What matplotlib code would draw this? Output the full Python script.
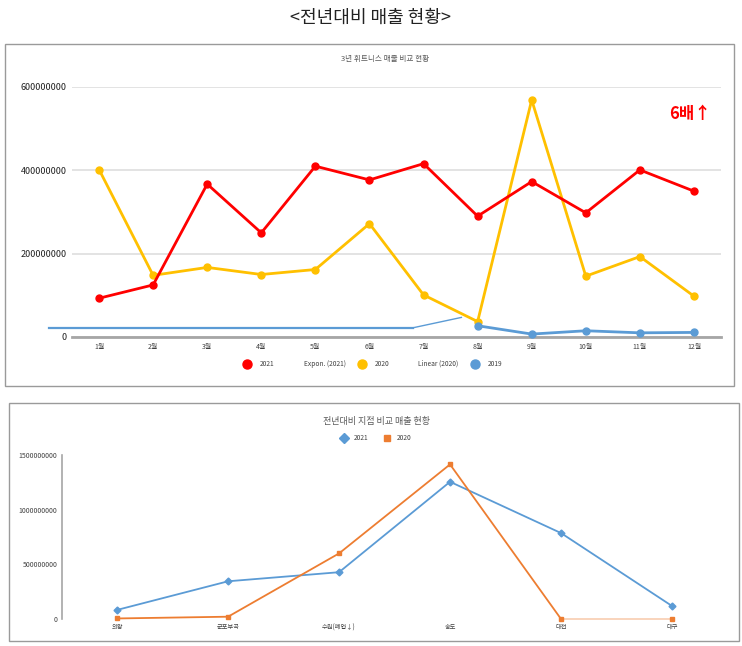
import numpy as np
import matplotlib.pyplot as plt
from matplotlib.lines import Line2D
from matplotlib.patches import Rectangle

plt.rcParams['font.family'] = ['Noto Sans CJK KR', 'DejaVu Sans']

# chart 1 data
months = ['1월', '2월', '3월', '4월', '5월', '6월', '7월', '8월', '9월', '10월', '11월', '12월']
sales_2021 = [93e6, 125e6, 367e6, 250e6, 410e6, 377e6, 416e6, 290e6, 373e6, 298e6, 401e6, 350e6]
sales_2020 = [402e6, 148e6, 167e6, 150e6, 162e6, 272e6, 101e6, 37e6, 569e6, 146e6, 193e6, 98e6]
months_2019 = [8, 9, 10, 11, 12]
sales_2019 = [27e6, 7e6, 15e6, 10e6, 11e6]
# stray trend line pieces
trend_x = [0.08, 6.8]
trend_y = [21e6, 21e6]
trend2_x = [6.8, 7.7]
trend2_y = [22e6, 47e6]
y1_ticks = [0, 200000000, 400000000, 600000000]

# chart 2 data
branches = ['의왕', '군포부곡', '수원(폐업↓)', '송도', '대전', '대구']
branch_2021 = [83e6, 345e6, 428e6, 1255e6, 786e6, 119e6]
branch_2020 = [5e6, 21e6, 600e6, 1414e6, 0, 0]
y2_ticks = [0, 500000000, 1000000000, 1500000000]

W, H = 742, 646
fig = plt.figure(figsize=(W / 100, H / 100), dpi=100)

def box(x0, y0, x1, y1):
    fig.patches.append(Rectangle((x0 / W, 1 - y1 / H), (x1 - x0) / W, (y1 - y0) / H,
                                 transform=fig.transFigure, fill=False,
                                 edgecolor='#9a9a9a', linewidth=1.0))

fig.text(371 / W, 1 - 18 / H, '<전년대비 매출 현황>', ha='center', va='center',
         fontsize=13, color='#222222')

box(5, 44, 734, 386)
box(9, 403, 739, 641)

# ---- chart 1
ax1 = fig.add_axes([72 / W, 1 - 337 / H, (721 - 72) / W, 250 / H])
x = np.arange(1, 13)
ax1.plot(x, sales_2021, color='#ff0000', lw=2.0, marker='o', ms=5, clip_on=False, zorder=4)
ax1.plot(x, sales_2020, color='#ffc000', lw=2.0, marker='o', ms=5, clip_on=False, zorder=3)
ax1.plot(months_2019, sales_2019, color='#5b9bd5', lw=2.0, marker='o', ms=5, clip_on=False, zorder=3)
ax1.plot(trend_x, trend_y, color='#5b9bd5', lw=1.6, clip_on=False, zorder=3)
ax1.plot(trend2_x, trend2_y, color='#5b9bd5', lw=1.0, clip_on=False, zorder=3)
ax1.set_xlim(0.5, 12.5)
ax1.set_ylim(0, 600e6)
ax1.set_xticks(x)
ax1.set_xticklabels(months, fontsize=5, color='#404040')
ax1.set_yticks(y1_ticks)
ax1.set_yticklabels([str(v) for v in y1_ticks], fontsize=6.5, color='#222222')
ax1.tick_params(length=0, pad=4)
ax1.tick_params(axis='y', pad=4)
for s in ['top', 'right', 'left']:
    ax1.spines[s].set_visible(False)
ax1.spines['bottom'].set_color('#a6a6a6')
ax1.spines['bottom'].set_linewidth(2)
ax1.grid(axis='y', color='#e3e3e3', lw=1.4)
ax1.set_axisbelow(True)
ax1.set_title('3년 휘트니스 매출 비교 현황', fontsize=5.5, color='#595959', pad=19,
              x=(385 - 72) / (721 - 72))
ax1.text(11.93, 535e6, '6배↑', color='#ff0000', fontsize=12, fontweight='bold',
         ha='center', va='center')

handles = [Line2D([], [], ls='none', marker='o', ms=6.5, color='#ff0000'),
           Line2D([], [], ls='none'),
           Line2D([], [], ls='none', marker='o', ms=6.5, color='#ffc000'),
           Line2D([], [], ls='none'),
           Line2D([], [], ls='none', marker='o', ms=6.5, color='#5b9bd5')]
labels = ['2021', 'Expon. (2021)', '2020', 'Linear (2020)', '2019']
leg = ax1.legend(handles, labels, ncol=5, loc='center', frameon=False, fontsize=4.8,
                 bbox_to_anchor=((372 - 72) / 649, -27 / 250), handlelength=1.5,
                 handletextpad=1.2, columnspacing=1.65)
for t in leg.get_texts():
    t.set_color('#404040')

# ---- chart 2
ax2 = fig.add_axes([61.6 / W, 1 - 619 / H, (727.5 - 61.6) / W, 164 / H])
xb = np.arange(len(branches))
ax2.plot(xb, branch_2021, color='#5b9bd5', lw=1.3, marker='D', ms=3.5, clip_on=False, zorder=3)
ax2.plot(xb[:5], branch_2020[:5], color='#ed7d31', lw=1.3, marker='s', ms=3.2, clip_on=False, zorder=3)
ax2.plot(xb[4:], branch_2020[4:], color='#ed7d31', lw=1.3, alpha=0.35, clip_on=False, zorder=2)
ax2.plot(xb[5:], branch_2020[5:], color='#ed7d31', ls='none', marker='s', ms=2.5, clip_on=False, zorder=3)
ax2.set_xlim(-0.5, 5.5)
ax2.set_ylim(0, 1500e6)
ax2.set_xticks(xb)
ax2.set_xticklabels(branches, fontsize=4.5, color='#404040')
ax2.set_yticks(y2_ticks)
ax2.set_yticklabels([str(v) for v in y2_ticks], fontsize=5, color='#404040')
ax2.tick_params(length=0, pad=3)
for s in ['top', 'right', 'bottom']:
    ax2.spines[s].set_visible(False)
ax2.spines['left'].set_color('#a6a6a6')
ax2.spines['left'].set_linewidth(1.2)
ax2.set_title('전년대비 지점 비교 매출 현황', fontsize=6.5, color='#595959', pad=22,
              x=(377 - 61.6) / 666)

handles2 = [Line2D([], [], ls='none', marker='D', ms=5, color='#5b9bd5'),
            Line2D([], [], ls='none', marker='s', ms=5, color='#ed7d31')]
leg2 = ax2.legend(handles2, ['2021', '2020'], ncol=2, loc='center', frameon=False,
                  fontsize=4.8, bbox_to_anchor=((376 - 61.6) / 666, 1 + 17 / 164),
                  handlelength=1.0, handletextpad=1.0, columnspacing=2.3)
for t in leg2.get_texts():
    t.set_color('#404040')

fig.savefig('out.png', dpi=100)
